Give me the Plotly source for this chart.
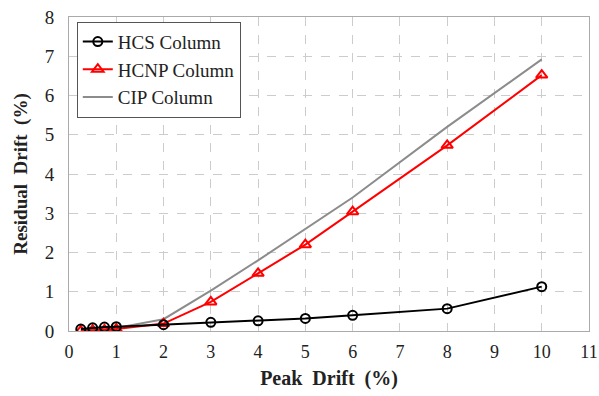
import plotly.graph_objects as go

peak = [0.25, 0.5, 0.75, 1, 2, 3, 4, 5, 6, 8, 10]
hcs = [0.05, 0.08, 0.10, 0.11, 0.16, 0.22, 0.26, 0.32, 0.40, 0.57, 1.13]
hcnp = [0.0, 0.02, 0.03, 0.05, 0.19, 0.74, 1.47, 2.2, 3.04, 4.73, 6.52]
cip = [0.01, 0.03, 0.05, 0.08, 0.30, 1.03, 1.80, 2.60, 3.40, 5.20, 6.92]

fig = go.Figure()
fig.add_trace(go.Scatter(x=peak, y=cip, mode="lines", name="CIP Column",
                         line=dict(color="#8c8c8c", width=2)))
fig.add_trace(go.Scatter(x=peak, y=hcnp, mode="lines+markers", name="HCNP Column",
                         line=dict(color="#ff0000", width=2),
                         marker=dict(symbol="triangle-up-open", size=10, color="#ff0000", line=dict(width=2))))
fig.add_trace(go.Scatter(x=peak, y=hcs, mode="lines+markers", name="HCS Column",
                         line=dict(color="#000000", width=2),
                         marker=dict(symbol="circle-open", size=9, color="#000000", line=dict(width=2))))

font = "Liberation Serif"
fig.update_layout(
    width=599, height=396,
    margin=dict(l=69, r=10, t=17, b=65, autoexpand=False),
    paper_bgcolor="white", plot_bgcolor="white",
    font=dict(family=font, size=18, color="#222"),
    showlegend=True,
    legend=dict(x=0.015, y=0.985, xanchor="left", yanchor="top",
                traceorder="reversed", bordercolor="#555", borderwidth=1,
                bgcolor="white", font=dict(family=font, size=19, color="#222"),
                tracegroupgap=0, itemwidth=30),
    xaxis=dict(range=[0, 11], tickvals=list(range(0, 12)), showgrid=True,
               gridcolor="#cccccc", griddash="dash", gridwidth=1,
               showline=True, linecolor="#aaaaaa", linewidth=1, mirror=True,
               zeroline=False, ticks="", tickfont=dict(family=font, size=18),
               ticklabelstandoff=4, automargin=False,
               title=dict(text="<b>Peak  Drift  (%)</b>", font=dict(family=font, size=20), standoff=10)),
    yaxis=dict(range=[0, 8], tickvals=list(range(0, 9)), showgrid=True,
               gridcolor="#cccccc", griddash="dash", gridwidth=1,
               showline=True, linecolor="#aaaaaa", linewidth=1, mirror=True,
               zeroline=False, ticks="", tickfont=dict(family=font, size=19),
               ticklabelstandoff=10, automargin=False,
               title=dict(text="<b>Residual  Drift  (%)</b>", font=dict(family=font, size=19), standoff=12)),
)
fig.write_html("out.html", config={"displayModeBar": False},
               post_script="document.body.style.margin='0';")
